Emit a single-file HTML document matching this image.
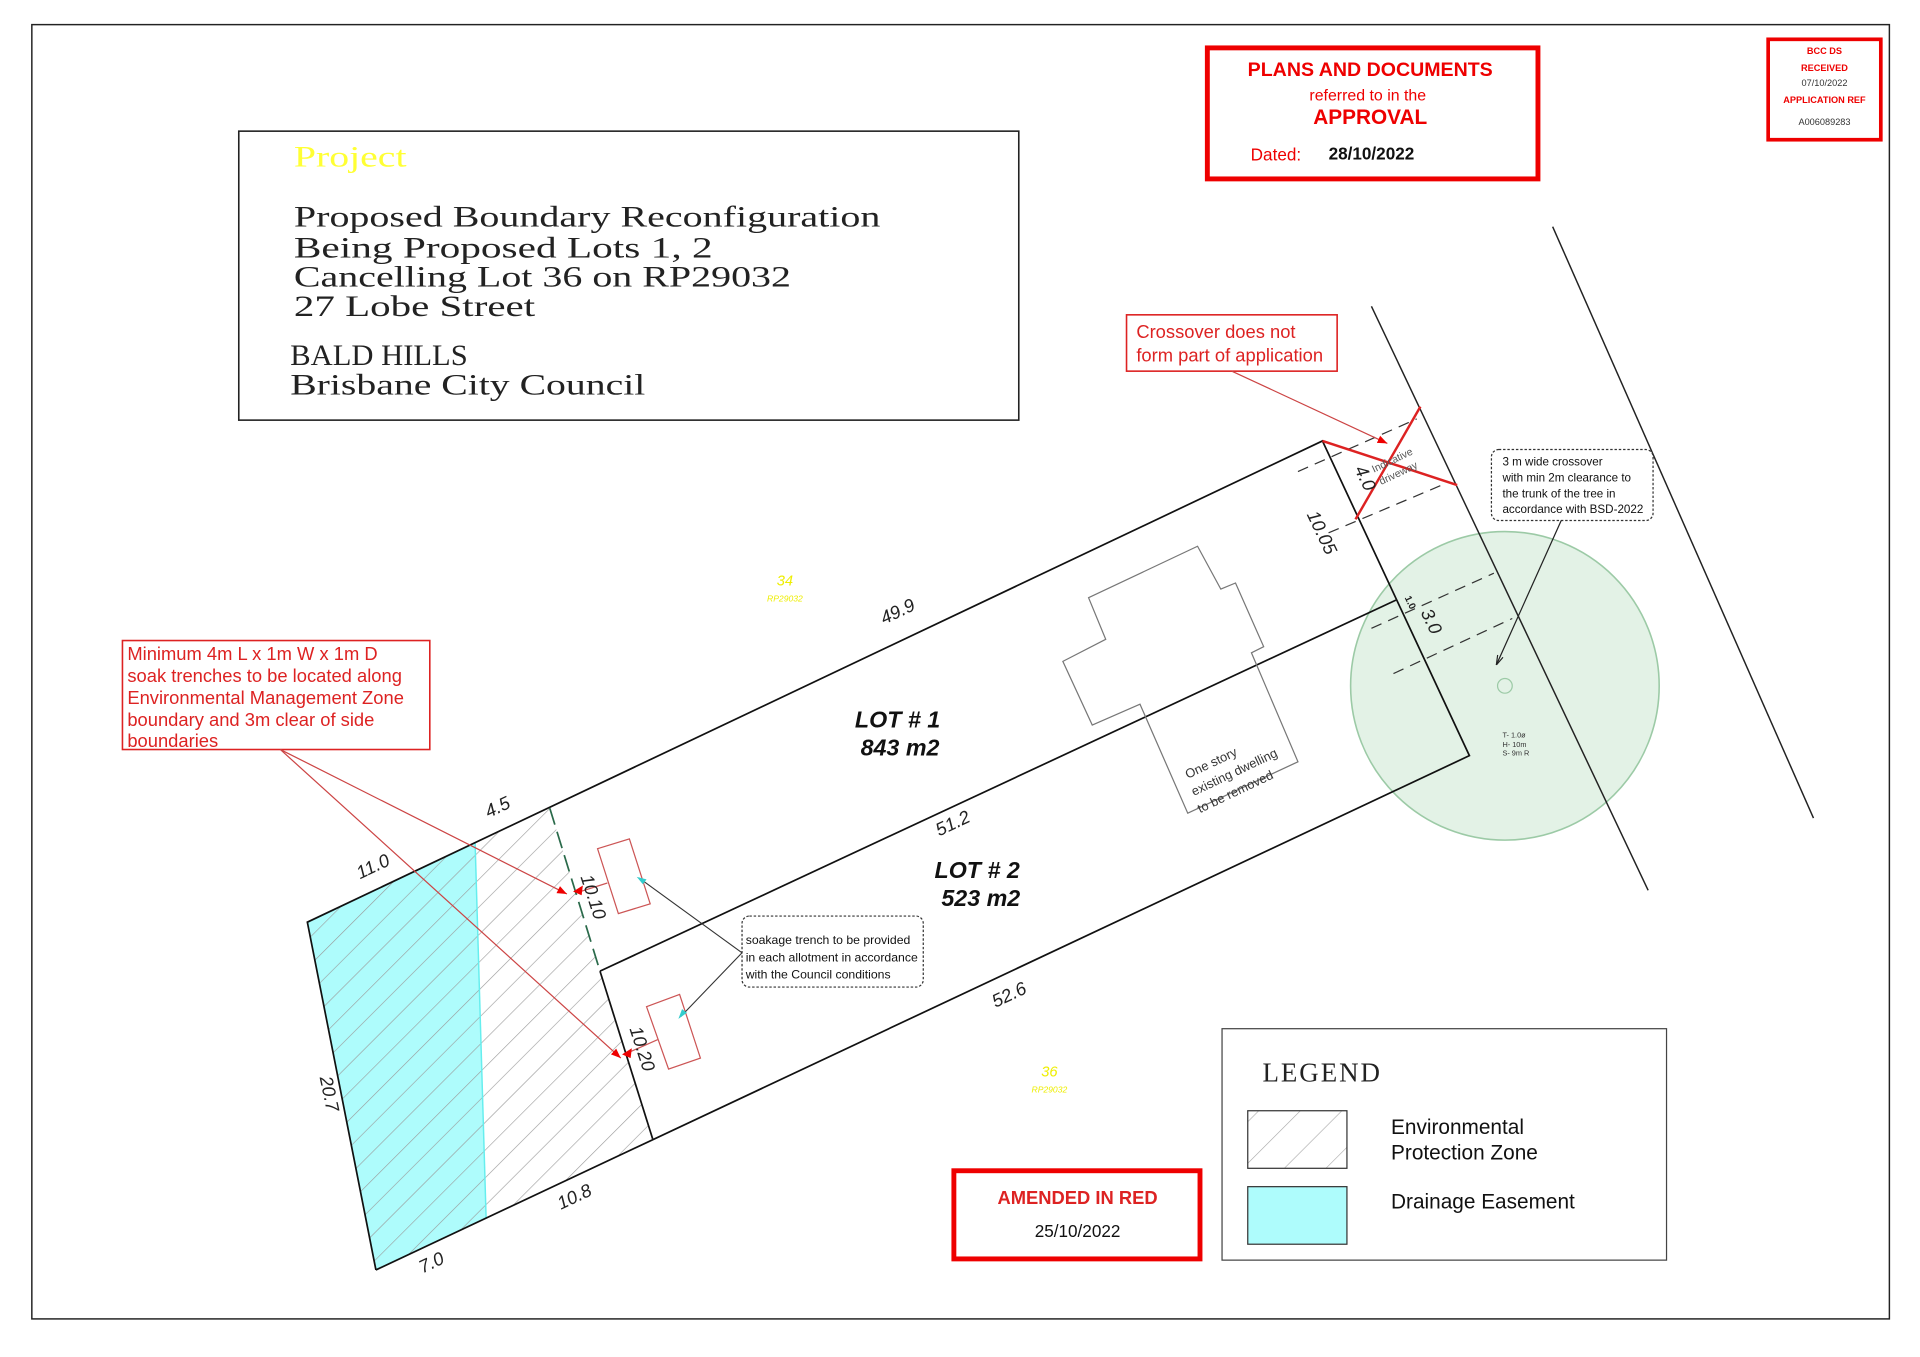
<!DOCTYPE html>
<html><head><meta charset="utf-8"><style>
html,body{margin:0;padding:0;background:#fff;}
svg{display:block;}
.s{font-family:"Liberation Sans",sans-serif;}
.sf{font-family:"Liberation Serif",serif;}
</style></head><body>
<svg width="1920" height="1357" viewBox="0 0 1568 1108" xmlns="http://www.w3.org/2000/svg">
<defs>
<pattern id="hatch" width="16" height="16" patternUnits="userSpaceOnUse" patternTransform="rotate(45)">
<line x1="0" y1="0" x2="0" y2="16" stroke="#9a9a9a" stroke-width="1"/>
</pattern>
<pattern id="hatch2" width="24" height="24" patternUnits="userSpaceOnUse" patternTransform="rotate(45)">
<line x1="0" y1="0" x2="0" y2="24" stroke="#aaa" stroke-width="1"/>
</pattern>
<marker id="ar" viewBox="0 0 10 10" refX="10" refY="5" markerWidth="8" markerHeight="8" orient="auto-start-reverse"><path d="M0,1 L10,5 L0,9z" fill="#e00"/></marker>
<marker id="ak" viewBox="0 0 10 10" refX="10" refY="5" markerWidth="8" markerHeight="8" orient="auto"><path d="M0,2 L10,5 L0,8" fill="none" stroke="#222" stroke-width="1.2"/></marker>
</defs>
<rect x="26" y="20" width="1517" height="1057" fill="none" stroke="#222" stroke-width="1.2"/>

<!-- project box -->
<rect x="195" y="107" width="637" height="236" fill="none" stroke="#222" stroke-width="1.3"/>
<g class="sf" font-size="24" fill="#222">
<text x="240" y="136" fill="#ff3" font-size="24" textLength="92" lengthAdjust="spacingAndGlyphs">Project</text>
<text x="240" y="185" textLength="479" lengthAdjust="spacingAndGlyphs">Proposed Boundary Reconfiguration</text>
<text x="240" y="210" textLength="342" lengthAdjust="spacingAndGlyphs">Being Proposed Lots 1, 2</text>
<text x="240" y="234" textLength="406" lengthAdjust="spacingAndGlyphs">Cancelling Lot 36 on RP29032</text>
<text x="240" y="258" textLength="197" lengthAdjust="spacingAndGlyphs">27 Lobe Street</text>
<text x="237" y="298" textLength="145" lengthAdjust="spacingAndGlyphs">BALD HILLS</text>
<text x="237" y="322" textLength="290" lengthAdjust="spacingAndGlyphs">Brisbane City Council</text>
</g>

<!-- plans box -->
<rect x="986" y="39" width="270" height="107" fill="none" stroke="#e00" stroke-width="4"/>
<g class="s" fill="#e00" text-anchor="middle">
<text x="1119" y="62" font-size="16" font-weight="bold">PLANS AND DOCUMENTS</text>
<text x="1117" y="82" font-size="13">referred to in the</text>
<text x="1119" y="101" font-size="17" font-weight="bold">APPROVAL</text>
<text x="1042" y="131" font-size="14">Dated:</text>
<text x="1120" y="130" font-size="14" font-weight="bold" fill="#111">28/10/2022</text>
</g>
<rect x="1444" y="32" width="92" height="82" fill="none" stroke="#e00" stroke-width="3"/>
<g class="s" text-anchor="middle" font-size="7.5">
<text x="1490" y="44" fill="#e00" font-weight="bold">BCC DS</text>
<text x="1490" y="58" fill="#e00" font-weight="bold">RECEIVED</text>
<text x="1490" y="70" fill="#333">07/10/2022</text>
<text x="1490" y="84" fill="#e00" font-weight="bold">APPLICATION REF</text>
<text x="1490" y="102" fill="#333">A006089283</text>
</g>

<!-- tree -->
<circle cx="1229" cy="560" r="126" fill="#e3f2e6" stroke="#9ccaa6" stroke-width="1.3"/>
<circle cx="1229" cy="560" r="6" fill="none" stroke="#9ccaa6" stroke-width="1"/>
<g font-family="Liberation Sans Narrow,Liberation Sans,sans-serif" font-size="6" fill="#333">
<text x="1227" y="602">T- 1.0ø</text><text x="1227" y="610">H- 10m</text><text x="1227" y="617">S- 9m R</text>
</g>

<!-- road lines -->
<line x1="1120" y1="250" x2="1346" y2="727" stroke="#222" stroke-width="1.2"/>
<line x1="1268" y1="185" x2="1481" y2="668" stroke="#222" stroke-width="1.2"/>

<!-- zones -->
<polygon points="251,753 388,688 397,995 307,1037" fill="#aefcfc"/>
<polygon points="251,753 449,660 490,793 533,930 307,1037" fill="url(#hatch)"/>
<line x1="388" y1="688" x2="397" y2="995" stroke="#6ee" stroke-width="1.2"/>

<!-- lot outline -->
<g stroke="#111" stroke-width="1.4" fill="none">
<polyline points="307,1037 251,753 1080,360 1200,617 307,1037"/>
<line x1="490" y1="793" x2="1140" y2="490"/>
<line x1="490" y1="793" x2="533" y2="930"/>
</g>
<line x1="449" y1="660" x2="490" y2="793" stroke="#2a6a4a" stroke-width="1.4" stroke-dasharray="14,6"/>

<!-- house -->
<polygon points="868,540 903,522 889,488 978,446 997,481 1009,476 1032,528 1022,533 1060,622 970,664 931,575 892,592" fill="none" stroke="#777" stroke-width="1"/>
<text class="s" font-size="10.5" fill="#333" transform="translate(970,636) rotate(-25.4)">One story</text>
<text class="s" font-size="10.5" fill="#333" transform="translate(975,650) rotate(-25.4)">existing dwelling</text>
<text class="s" font-size="10.5" fill="#333" transform="translate(980,664) rotate(-25.4)">to be removed</text>

<!-- driveway dashed -->
<g stroke="#333" stroke-width="1" stroke-dasharray="9,6" fill="none">
<line x1="1060" y1="385" x2="1157" y2="342"/>
<line x1="1085" y1="435" x2="1180" y2="395"/>
<line x1="1120" y1="513" x2="1220" y2="468"/>
<line x1="1138" y1="550" x2="1235" y2="505"/>
</g>
<g stroke="#d22" stroke-width="2">
<line x1="1107" y1="424" x2="1160" y2="332"/>
<line x1="1080" y1="360" x2="1190" y2="396"/>
</g>
<text class="s" font-size="8.5" fill="#555" transform="translate(1122,386) rotate(-25.4)">Indicative</text>
<text class="s" font-size="8.5" fill="#555" transform="translate(1128,396) rotate(-25.4)">driveway</text>

<!-- crossover callout -->
<rect x="920" y="257" width="172" height="46" fill="#fff" stroke="#d22" stroke-width="1.3"/>
<text class="s" x="928" y="276" font-size="15" fill="#d22">Crossover does not</text>
<text class="s" x="928" y="295" font-size="15" fill="#d22">form part of application</text>
<line x1="1006" y1="303" x2="1133" y2="362" stroke="#c44" stroke-width="1" marker-end="url(#ar)"/>

<!-- tree callout -->
<rect x="1218" y="367" width="132" height="58" rx="6" fill="#fff" stroke="#333" stroke-width="1" stroke-dasharray="2,1.5"/>
<g class="s" font-size="9.5" fill="#111">
<text x="1227" y="380">3 m wide crossover</text>
<text x="1227" y="393">with min 2m clearance to</text>
<text x="1227" y="406">the trunk of the tree in</text>
<text x="1227" y="419">accordance with BSD-2022</text>
</g>
<line x1="1275" y1="425" x2="1222" y2="543" stroke="#222" stroke-width="1" marker-end="url(#ak)"/>

<!-- trenches -->
<g stroke="#c55" stroke-width="1" fill="#fff">
<polygon points="488,693 514,685 531,738 505,746"/>
<polygon points="528,822 555,812 572,864 546,873"/>
<line x1="496" y1="721" x2="474" y2="728"/>
<line x1="537" y1="849" x2="512" y2="860"/>
</g>
<path d="M468,728 l8,-5 l-1,8z M508,861 l8,-5 l-1,8z" fill="#e00"/>

<!-- soak callout -->
<rect x="606" y="748" width="148" height="58" rx="6" fill="#fff" stroke="#333" stroke-width="1" stroke-dasharray="2,1.5"/>
<g class="s" font-size="10" fill="#111">
<text x="609" y="771">soakage trench to be provided</text>
<text x="609" y="785">in each allotment in accordance</text>
<text x="609" y="799">with the Council conditions</text>
</g>
<line x1="606" y1="778" x2="522" y2="717" stroke="#333" stroke-width="0.9"/>
<line x1="606" y1="778" x2="556" y2="830" stroke="#333" stroke-width="0.9"/>
<path d="M520,716 l8,2 l-3,4z M554,832 l3,-8 l4,3z" fill="#3cc"/>

<!-- left callout -->
<rect x="100" y="523" width="251" height="89" fill="#fff" stroke="#d22" stroke-width="1.3"/>
<g class="s" font-size="15" fill="#d22">
<text x="104" y="539">Minimum 4m L x 1m W x 1m D</text>
<text x="104" y="557">soak trenches to be located along</text>
<text x="104" y="575">Environmental Management Zone</text>
<text x="104" y="593">boundary and 3m clear of side</text>
<text x="104" y="610">boundaries</text>
</g>
<line x1="229" y1="612" x2="463" y2="730" stroke="#c44" stroke-width="1" marker-end="url(#ar)"/>
<line x1="229" y1="612" x2="507" y2="864" stroke="#c44" stroke-width="1" marker-end="url(#ar)"/>

<!-- dimension labels -->
<g class="s" font-style="italic" font-size="15" fill="#222">
<text transform="translate(722,510) rotate(-25.4)">49.9</text>
<text transform="translate(767,683) rotate(-25.4)">51.2</text>
<text transform="translate(813,823) rotate(-25.4)">52.6</text>
<text transform="translate(399,668) rotate(-25.4)">4.5</text>
<text transform="translate(294,718) rotate(-25.4)">11.0</text>
<text transform="translate(458,988) rotate(-25.4)">10.8</text>
<text transform="translate(345,1040) rotate(-25.4)">7.0</text>
<text transform="translate(261,880) rotate(78)">20.7</text>
<text transform="translate(474,716) rotate(72)">10.10</text>
<text transform="translate(514,840) rotate(72)">10.20</text>
<text transform="translate(1067,420) rotate(64.6)">10.05</text>
<text transform="translate(1106,383) rotate(64.6)">4.0</text>
<text transform="translate(1160,500) rotate(64.6)">3.0</text>
</g>
<text class="s" font-size="8" font-weight="bold" transform="translate(1147,488) rotate(64.6)" fill="#222">1.0</text>
<g class="s" font-style="italic" font-weight="bold" font-size="19" fill="#111" text-anchor="middle">
<text x="733" y="594">LOT # 1</text><text x="735" y="617">843 m2</text>
<text x="798" y="717">LOT # 2</text><text x="801" y="740">523 m2</text>
</g>
<g class="s" fill="#ee0" text-anchor="middle" font-style="italic">
<text x="641" y="478" font-size="12">34</text><text x="641" y="491" font-size="7">RP29032</text>
<text x="857" y="879" font-size="12">36</text><text x="857" y="892" font-size="7">RP29032</text>
</g>

<!-- amended -->
<rect x="779" y="956" width="201" height="72" fill="#fff" stroke="#e00" stroke-width="4"/>
<text class="s" x="880" y="983" font-size="15" font-weight="bold" fill="#d22" text-anchor="middle">AMENDED IN RED</text>
<text class="s" x="880" y="1010" font-size="14" fill="#111" text-anchor="middle">25/10/2022</text>

<!-- legend -->
<rect x="998" y="840" width="363" height="189" fill="#fff" stroke="#444" stroke-width="1"/>
<text class="sf" x="1031" y="883" font-size="22" fill="#222" textLength="96">LEGEND</text>
<rect x="1019" y="907" width="81" height="47" fill="url(#hatch2)" stroke="#333" stroke-width="1"/>
<rect x="1019" y="969" width="81" height="47" fill="#aefcfc" stroke="#333" stroke-width="1"/>
<g class="s" font-size="17" fill="#111">
<text x="1136" y="926">Environmental</text>
<text x="1136" y="947">Protection Zone</text>
<text x="1136" y="987">Drainage Easement</text>
</g>
</svg>
</body></html>
